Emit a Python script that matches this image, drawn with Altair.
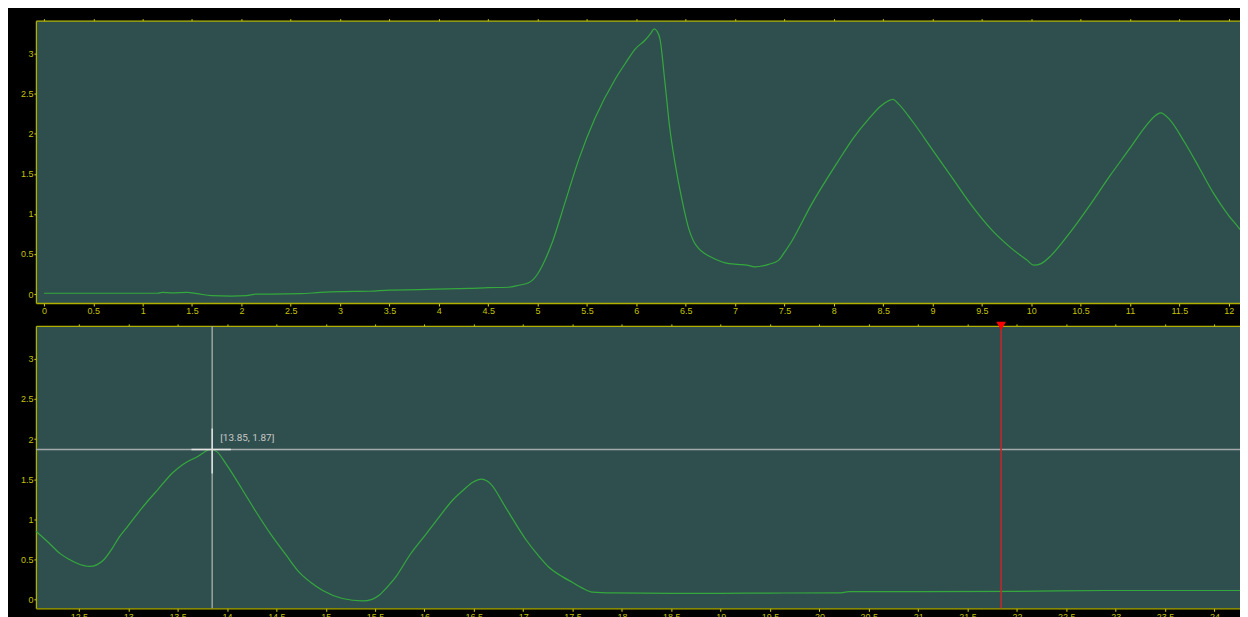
import altair as alt
import pandas as pd

# ---------------- data ----------------
top_x = [0.00, 0.50, 1.00, 1.15, 1.20, 1.30, 1.45, 1.55, 1.70, 1.90, 2.05, 2.15, 2.30, 2.60, 2.80,
         3.00, 3.30, 3.50, 3.80, 4.10, 4.30, 4.50, 4.70, 4.81, 4.91, 5.00, 5.05, 5.15, 5.28, 5.42,
         5.58, 5.79, 5.90, 5.99, 6.09, 6.15, 6.18, 6.21, 6.24, 6.29, 6.34, 6.39, 6.46, 6.53, 6.58,
         6.63, 6.70, 6.76, 6.90, 7.03, 7.12, 7.20, 7.34, 7.44, 7.50, 7.57, 7.77, 8.04, 8.20, 8.35,
         8.48, 8.55, 8.60, 8.65, 8.80, 9.00, 9.20, 9.40, 9.60, 9.80, 9.95, 10.03, 10.10, 10.20,
         10.40, 10.60, 10.80, 11.00, 11.15, 11.25, 11.31, 11.40, 11.55, 11.70, 11.85, 12.00,
         12.10, 12.165]
top_y = [0.01, 0.01, 0.01, 0.01, 0.02, 0.015, 0.02, 0.005, -0.02, -0.025, -0.02, 0.0, 0.0, 0.005,
         0.02, 0.03, 0.035, 0.05, 0.055, 0.065, 0.07, 0.08, 0.085, 0.11, 0.14, 0.25, 0.36, 0.65,
         1.15, 1.69, 2.19, 2.69, 2.90, 3.06, 3.17, 3.26, 3.31, 3.28, 3.18, 2.64, 2.06, 1.65, 1.19,
         0.82, 0.66, 0.57, 0.50, 0.46, 0.39, 0.37, 0.36, 0.34, 0.37, 0.42, 0.52, 0.65, 1.11, 1.65,
         1.95, 2.18, 2.35, 2.41, 2.43, 2.38, 2.15, 1.80, 1.45, 1.10, 0.80, 0.57, 0.43, 0.36, 0.38,
         0.48, 0.78, 1.12, 1.48, 1.82, 2.08, 2.22, 2.26, 2.18, 1.90, 1.58, 1.25, 0.98, 0.83, 0.73]

bot_x = [12.065, 12.20, 12.31, 12.40, 12.48, 12.61, 12.68, 12.75, 12.83, 12.91, 13.00, 13.10,
         13.20, 13.30, 13.45, 13.55, 13.70, 13.84, 13.90, 13.99, 14.15, 14.30, 14.45, 14.60,
         14.73, 14.85, 14.97, 15.17, 15.37, 15.47, 15.54, 15.62, 15.71, 15.85, 16.02, 16.15,
         16.28, 16.40, 16.49, 16.58, 16.63, 16.67, 16.82, 17.03, 17.15, 17.26, 17.40, 17.50,
         17.60, 17.70, 17.90, 18.50, 19.00, 19.50, 20.20, 20.30, 21.00, 22.00, 22.40, 23.00, 24.31]
bot_y = [0.85, 0.70, 0.57, 0.50, 0.45, 0.41, 0.43, 0.49, 0.62, 0.78, 0.92, 1.08, 1.23, 1.37,
         1.58, 1.68, 1.78, 1.87, 1.84, 1.69, 1.38, 1.08, 0.80, 0.55, 0.34, 0.21, 0.11, 0.01,
         -0.02, 0.0, 0.05, 0.15, 0.28, 0.55, 0.82, 1.03, 1.23, 1.37, 1.46, 1.50, 1.48, 1.44, 1.15,
         0.74, 0.55, 0.40, 0.28, 0.21, 0.14, 0.09, 0.08, 0.075, 0.075, 0.078, 0.08, 0.095, 0.095,
         0.10, 0.105, 0.11, 0.11]

y_ticks = [0, 0.5, 1, 1.5, 2, 2.5, 3]
top_ticks = [0, 0.5, 1, 1.5, 2, 2.5, 3, 3.5, 4, 4.5, 5, 5.5, 6, 6.5, 7, 7.5, 8, 8.5, 9, 9.5,
             10, 10.5, 11, 11.5, 12]
bot_ticks = [12.5, 13, 13.5, 14, 14.5, 15, 15.5, 16, 16.5, 17, 17.5, 18, 18.5, 19, 19.5, 20,
             20.5, 21, 21.5, 22, 22.5, 23, 23.5, 24]

cursor_x = 13.85
cursor_y = 1.87
cursor_hx = [13.64, 14.04]
cursor_vy = [1.57, 2.13]
marker_x = 21.84

top_domain = [-0.081, 12.165]
bot_domain = [12.065, 24.31]
y_domain = [-0.112, 3.411]

# ---------------- styles ----------------
BG = "#2F4F4F"
LINE = "#34a83c"
AX_DOMAIN = "#b0b000"
AX_TICK = "#dcdc00"
AX_LABEL = "#c4c400"
FONT = "Liberation Sans"

ax_common = dict(domainColor=AX_DOMAIN, domainWidth=1.3, tickColor=AX_TICK, tickWidth=1,
                 labelColor=AX_LABEL, labelFont=FONT, labelFontSize=9, grid=False)

y_axis = alt.Axis(orient="left", values=y_ticks, format="~g", tickSize=2, labelPadding=1,
                  minExtent=28, maxExtent=28, labelFlush=False, **ax_common)


def bottom_axis(vals):
    return alt.Axis(orient="bottom", values=vals, format="~g", tickSize=3, labelPadding=1,
                    labelAngle=0, labelOverlap=False, labelFlush=False, labelBaseline="top",
                    minExtent=14, maxExtent=14, **ax_common)


def top_axis(vals):
    return alt.Axis(orient="top", values=vals, labels=False, tickSize=2,
                    minExtent=4, maxExtent=4, **ax_common)


W, H = 1212, 283
yscale = alt.Scale(domain=y_domain, nice=False, zero=False)

# ---------------- top panel ----------------
top_df = pd.DataFrame({"x": top_x, "y": top_y})
top_scale = alt.Scale(domain=top_domain, nice=False, zero=False)

top_line = alt.Chart(top_df).mark_line(color=LINE, strokeWidth=1.2, interpolate="monotone").encode(
    x=alt.X("x:Q", scale=top_scale, axis=bottom_axis(top_ticks), title=None),
    y=alt.Y("y:Q", scale=yscale, axis=y_axis, title=None),
)
top_ax = alt.Chart(top_df).mark_line(strokeOpacity=0).encode(
    x=alt.X("x:Q", scale=top_scale, axis=top_axis(top_ticks), title=None),
    y=alt.Y("y:Q", scale=yscale, title=None),
)
top_panel = alt.layer(top_line, top_ax).resolve_axis(x="independent").properties(width=W, height=H)

# ---------------- bottom panel ----------------
bot_df = pd.DataFrame({"x": bot_x, "y": bot_y})
bot_scale = alt.Scale(domain=bot_domain, nice=False, zero=False)

bot_line = alt.Chart(bot_df).mark_line(color=LINE, strokeWidth=1.2, interpolate="monotone").encode(
    x=alt.X("x:Q", scale=bot_scale, axis=bottom_axis(bot_ticks), title=None),
    y=alt.Y("y:Q", scale=yscale, axis=y_axis, title=None),
)
bot_ax = alt.Chart(bot_df).mark_line(strokeOpacity=0).encode(
    x=alt.X("x:Q", scale=bot_scale, axis=top_axis(bot_ticks), title=None),
    y=alt.Y("y:Q", scale=yscale, title=None),
)

cur_df = pd.DataFrame({"cx": [cursor_x], "cy": [cursor_y],
                       "hx1": [cursor_hx[0]], "hx2": [cursor_hx[1]],
                       "vy1": [cursor_vy[0]], "vy2": [cursor_vy[1]],
                       "label": [f"[{cursor_x:.2f}, {cursor_y:.2f}]"]})

cur_v = alt.Chart(cur_df).mark_rule(color="#a4a8a8", strokeWidth=1.4).encode(
    x=alt.X("cx:Q", scale=bot_scale, axis=None))
cur_h = alt.Chart(cur_df).mark_rule(color="#a4a8a8", strokeWidth=1.4).encode(
    y=alt.Y("cy:Q", scale=yscale, title=None))
cur_hb = alt.Chart(cur_df).mark_rule(color="#e4e4e4", strokeWidth=1.4).encode(
    x=alt.X("hx1:Q", scale=bot_scale, axis=None), x2="hx2:Q",
    y=alt.Y("cy:Q", scale=yscale, title=None))
cur_vb = alt.Chart(cur_df).mark_rule(color="#e4e4e4", strokeWidth=1.4).encode(
    x=alt.X("cx:Q", scale=bot_scale, axis=None),
    y=alt.Y("vy1:Q", scale=yscale, title=None), y2="vy2:Q")
cur_txt = alt.Chart(cur_df).mark_text(align="left", baseline="bottom", dx=8, dy=-6,
                                      color="#c8c8c8", fontSize=10, font="Roboto").encode(
    x=alt.X("cx:Q", scale=bot_scale, axis=None),
    y=alt.Y("cy:Q", scale=yscale, title=None),
    text="label:N")

mk_df = pd.DataFrame({"mx": [marker_x], "my": [y_domain[1]]})
mk_line = alt.Chart(mk_df).mark_rule(color="#c0282a", strokeWidth=1.6).encode(
    x=alt.X("mx:Q", scale=bot_scale, axis=None))
mk_tri = alt.Chart(mk_df).mark_point(shape="triangle-down", filled=True, color="#ff0000",
                                     size=95, opacity=1).encode(
    x=alt.X("mx:Q", scale=bot_scale, axis=None),
    y=alt.Y("my:Q", scale=yscale, title=None))

bot_panel = alt.layer(bot_line, bot_ax, cur_v, cur_h, cur_hb, cur_vb, cur_txt, mk_line, mk_tri
                      ).resolve_axis(x="independent").properties(width=W, height=H)

chart = alt.vconcat(top_panel, bot_panel, spacing=4).properties(
    background="black",
    padding={"left": 0, "right": -8, "top": 8, "bottom": -5},
).configure_view(fill=BG, strokeWidth=0)

chart.save("out.html", embed_options={"renderer": "svg", "actions": False})
